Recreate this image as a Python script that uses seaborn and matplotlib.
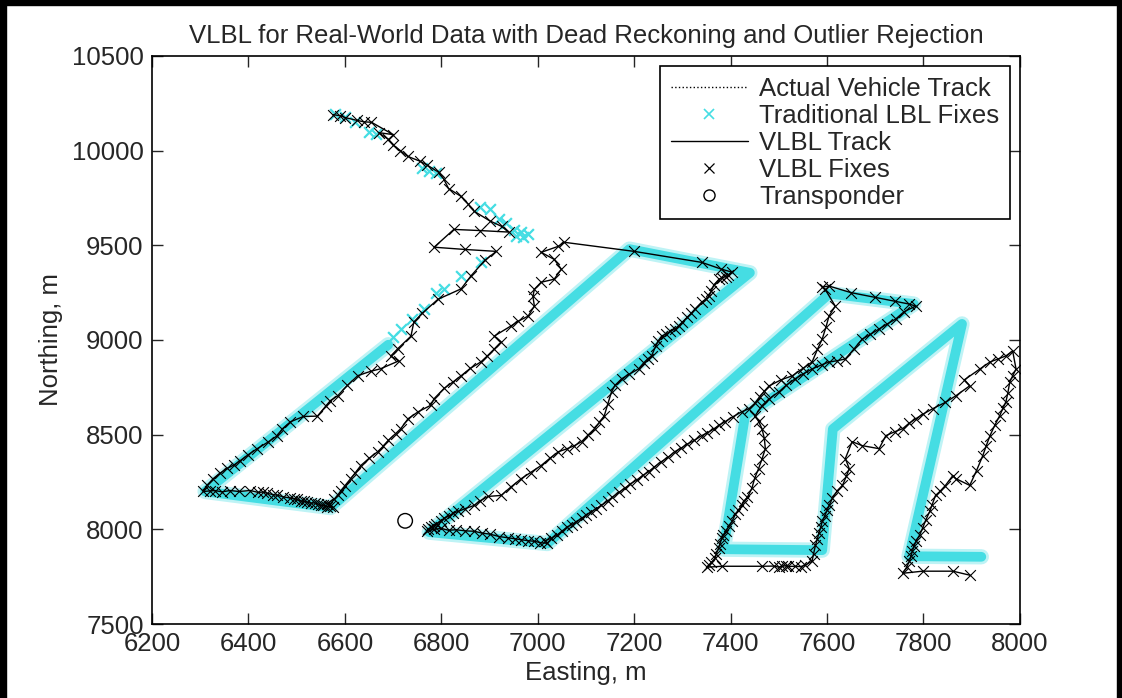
import matplotlib
matplotlib.use("Agg")
import matplotlib.pyplot as plt
from matplotlib.lines import Line2D
from matplotlib.patches import Rectangle
import seaborn as sns

# --- data (Easting / Northing, m) ---
# actual vehicle track (dotted), lawnmower vertices - lies under the LBL band
actual_e = [6690, 6310, 6570, 7190, 7440, 6775, 7020, 7605, 7780, 7430, 7385,
            7590, 7612, 7880, 7770, 7920]
actual_n = [8975, 8200, 8115, 9480, 9355, 7985, 7925, 9245, 9190, 8600, 7895,
            7890, 8530, 9085, 7858, 7855]

# traditional LBL fixes: dense band (drawn as a thick trace) ...
lbl_band_e = [6690, 6310, 6570, 7190, 7440, 6775, 7020, 7605, 7780, 7430, 7385,
              7590, 7612, 7880, 7770, 7920]
lbl_band_n = [8975, 8200, 8115, 9480, 9355, 7985, 7925, 9245, 9190, 8600, 7895,
              7890, 8530, 9085, 7858, 7855]
# ... and the sparse fixes where many were rejected
lbl_sparse_e = [6580, 6600, 6620, 6650, 6665, 6760, 6775, 6790, 6880, 6900, 6920, 6935,
                6950, 6965, 6980, 6970, 6955, 6882, 6841, 6806, 6790, 6764, 6740, 6716, 6700]
lbl_sparse_n = [10195, 10180, 10150, 10100, 10090, 9910, 9895, 9880, 9700, 9690, 9640, 9620,
                9580, 9570, 9560, 9545, 9550, 9410, 9337, 9268, 9250, 9163, 9110, 9058, 9015]

# VLBL track, piece by piece
seg_a_e = [6575, 6590, 6600, 6625, 6640, 6655, 6700, 6670, 6690, 6700, 6715, 6730,
           6755, 6770, 6795, 6805, 6815, 6840, 6855, 6868, 6900, 6925, 6940,
           6880, 6826, 6785, 6850, 6914]
seg_a_n = [10190, 10185, 10175, 10160, 10152, 10150, 10085, 10095, 10060, 10030, 10000, 9970,
           9945, 9925, 9885, 9850, 9800, 9760, 9720, 9680, 9630, 9600, 9570,
           9578, 9584, 9490, 9478, 9468]
seg_b_e = [6890, 6862, 6841, 6793, 6760, 6743, 6737, 6710, 6695, 6712, 6674, 6654, 6627,
           6605, 6585, 6570, 6560, 6543, 6514, 6487, 6470, 6460, 6440, 6418, 6400, 6383,
           6370, 6356, 6340, 6327, 6315, 6306]
seg_b_n = [9420, 9340, 9270, 9215, 9140, 9095, 9020, 8955, 8915, 8890, 8848, 8835, 8812,
           8760, 8705, 8680, 8650, 8598, 8596, 8568, 8530, 8495, 8460, 8426, 8395, 8363,
           8340, 8322, 8295, 8268, 8235, 8200]
seg_c_e = [6320, 6330, 6345, 6362, 6380, 6404, 6420, 6430, 6439, 6450, 6460, 6472, 6487,
           6495, 6500, 6508, 6515, 6522, 6529, 6537, 6545, 6550, 6555, 6562, 6570, 6575, 6562]
seg_c_n = [8203, 8205, 8198, 8205, 8200, 8205, 8195, 8197, 8190, 8184, 8180, 8172, 8165,
           8162, 8158, 8150, 8148, 8144, 8138, 8140, 8132, 8126, 8128, 8120, 8122, 8118, 8135]
seg_d_e = [6578, 6585, 6592, 6600, 6612, 6622, 6633, 6650, 6668, 6680, 6690, 6705, 6716,
           6731, 6752, 6778, 6785, 6806, 6825, 6841, 6860, 6882, 6895, 6910, 6924, 6910,
           6945, 6960, 6980, 6993, 6990, 6993, 7007, 7034, 7049, 7034, 7007, 7043, 7055]
seg_d_n = [8160, 8180, 8205, 8230, 8268, 8300, 8337, 8375, 8410, 8440, 8470, 8505, 8532,
           8584, 8621, 8655, 8690, 8745, 8780, 8811, 8850, 8884, 8915, 8953, 8990, 9021,
           9075, 9100, 9126, 9179, 9230, 9268, 9305, 9321, 9374, 9426, 9463, 9495, 9516]
seg_e_e = [7200, 7340, 7380, 7403]
seg_e_n = [9468, 9410, 9375, 9358]
seg_f_e = [7395, 7390, 7383, 7376, 7365, 7360, 7355, 7348, 7340, 7326, 7318, 7310, 7300,
           7292, 7285, 7275, 7265, 7257, 7250, 7245, 7236, 7228, 7220, 7209, 7190, 7174,
           7160, 7153, 7145, 7138, 7128, 7118, 7105, 7091, 7076, 7060, 7043, 7025, 7007,
           6985, 6966, 6945, 6924, 6897, 6880, 6868, 6850, 6835, 6825, 6815, 6805, 6799,
           6790, 6785, 6778, 6772, 6770]
seg_f_n = [9345, 9335, 9330, 9321, 9290, 9260, 9232, 9215, 9200, 9163, 9140, 9120, 9095,
           9074, 9060, 9045, 9030, 9021, 8995, 8970, 8916, 8900, 8880, 8847, 8820, 8795,
           8760, 8726, 8660, 8600, 8565, 8532, 8500, 8463, 8442, 8425, 8410, 8375, 8337,
           8300, 8268, 8225, 8179, 8174, 8150, 8126, 8110, 8095, 8085, 8070, 8058, 8042,
           8030, 8020, 8010, 8000, 7990]
seg_g_e = [6785, 6800, 6815, 6830, 6850, 6868, 6885, 6900, 6920, 6939, 6952, 6965, 6980,
           6993, 7005, 7020]
seg_g_n = [8000, 8005, 7995, 7998, 7992, 7990, 7980, 7975, 7962, 7955, 7950, 7945, 7940,
           7937, 7930, 7926]
seg_h_e = [7015, 7028, 7040, 7050, 7060, 7070, 7080, 7091, 7100, 7110, 7120, 7132, 7145,
           7155, 7168, 7180, 7192, 7205, 7218, 7230, 7242, 7255, 7270, 7284, 7298, 7310,
           7325, 7340, 7352, 7365, 7376, 7388, 7405, 7423, 7438, 7450, 7460, 7470, 7480,
           7505, 7528, 7550, 7569, 7580, 7590, 7598, 7604, 7617, 7596, 7590, 7604]
seg_h_n = [7940, 7953, 7970, 7990, 8010, 8025, 8040, 8058, 8075, 8090, 8108, 8126, 8150,
           8170, 8195, 8216, 8240, 8260, 8285, 8305, 8330, 8355, 8380, 8410, 8430, 8450,
           8470, 8495, 8510, 8530, 8550, 8568, 8595, 8621, 8637, 8665, 8700, 8730, 8758,
           8790, 8811, 8850, 8884, 8950, 9005, 9070, 9126, 9179, 9268, 9280, 9285]
seg_i_e = [7650, 7700, 7740, 7770, 7784]
seg_i_n = [9250, 9225, 9205, 9190, 9179]
seg_j_e = [7760, 7742, 7725, 7708, 7690, 7673, 7655, 7638, 7620, 7604, 7590, 7569, 7550,
           7534, 7515, 7500, 7480, 7465, 7451]
seg_j_n = [9150, 9110, 9085, 9058, 9030, 9005, 8950, 8900, 8890, 8884, 8870, 8847, 8820,
           8795, 8760, 8726, 8690, 8653, 8600]
seg_k_e = [7458, 7465, 7470, 7472, 7465, 7458, 7450, 7444, 7435, 7428, 7423, 7416, 7410,
           7403, 7396, 7390, 7385, 7382, 7378, 7375, 7370, 7368, 7360, 7355, 7350]
seg_k_n = [8570, 8532, 8480, 8426, 8370, 8321, 8270, 8216, 8170, 8150, 8126, 8100, 8080,
           8042, 8015, 7990, 7970, 7953, 7925, 7900, 7870, 7847, 7825, 7811, 7800]
seg_l_e = [7382, 7465, 7490, 7500, 7507, 7515, 7520, 7534, 7545, 7555, 7569]
seg_l_n = [7805, 7805, 7806, 7800, 7805, 7808, 7804, 7805, 7803, 7811, 7832]
seg_m_e = [7572, 7576, 7580, 7583, 7587, 7590, 7595, 7600, 7605, 7611, 7620, 7632, 7640,
           7646, 7638, 7652, 7673, 7708, 7722, 7740, 7757, 7770, 7784, 7800, 7819, 7845,
           7867, 7896, 7885, 7917, 7938, 7955, 7971, 7985]
seg_m_n = [7870, 7916, 7950, 7980, 8010, 8042, 8070, 8100, 8130, 8163, 8200, 8232, 8280,
           8321, 8374, 8463, 8442, 8426, 8495, 8515, 8532, 8560, 8584, 8610, 8637, 8670,
           8705, 8758, 8790, 8847, 8884, 8900, 8916, 8942]
seg_o_e = [7992, 7985, 7979, 7975, 7971, 7965, 7958, 7948, 7938, 7930, 7923, 7910, 7896,
           7867, 7861, 7845, 7834, 7825, 7818, 7813, 7805, 7798, 7792, 7785, 7780, 7777,
           7774, 7771, 7765, 7757]
seg_o_n = [8847, 8810, 8779, 8720, 8674, 8640, 8600, 8550, 8495, 8440, 8389, 8310, 8232,
           8268, 8284, 8230, 8200, 8179, 8130, 8095, 8050, 8005, 7970, 7940, 7910, 7884,
           7860, 7832, 7800, 7768]
seg_p_e = [7798, 7861, 7896]
seg_p_n = [7779, 7779, 7758]

vlbl_e = (seg_a_e + seg_b_e + seg_c_e + seg_d_e + seg_e_e + seg_f_e + seg_g_e + seg_h_e
          + seg_i_e + seg_j_e + seg_k_e + seg_l_e + seg_m_e + seg_o_e + seg_p_e)
vlbl_n = (seg_a_n + seg_b_n + seg_c_n + seg_d_n + seg_e_n + seg_f_n + seg_g_n + seg_h_n
          + seg_i_n + seg_j_n + seg_k_n + seg_l_n + seg_m_n + seg_o_n + seg_p_n)

transponder_e = [6725]
transponder_n = [8045]

x_ticks = [6200, 6400, 6600, 6800, 7000, 7200, 7400, 7600, 7800, 8000]
y_ticks = [7500, 8000, 8500, 9000, 9500, 10000, 10500]

lbl_color = "#45dde3"
fs = 18.5

sns.set_style("ticks")
plt.rcParams['font.family'] = ['Liberation Sans', 'DejaVu Sans']

fig = plt.figure(figsize=(11.22, 6.98), dpi=100)
ax = fig.add_axes([0.1355, 0.106, 0.7735, 0.8138])

# actual track (dotted, hidden under the LBL fixes)
sns.lineplot(x=actual_e, y=actual_n, sort=False, estimator=None, ax=ax,
             color="black", linestyle=":", linewidth=0.8, zorder=1)

# traditional LBL fixes
sns.lineplot(x=lbl_band_e, y=lbl_band_n, sort=False, estimator=None, ax=ax,
             color=lbl_color, alpha=0.35, linewidth=11, zorder=2)
sns.lineplot(x=lbl_band_e, y=lbl_band_n, sort=False, estimator=None, ax=ax,
             color=lbl_color, linewidth=7, zorder=2)
sns.scatterplot(x=lbl_sparse_e, y=lbl_sparse_n, ax=ax, marker="x", color=lbl_color,
                s=60, linewidth=1.6, zorder=2)

# VLBL track + fixes
sns.lineplot(x=vlbl_e, y=vlbl_n, sort=False, estimator=None, ax=ax,
             color="black", linewidth=1.0, zorder=3)
sns.scatterplot(x=vlbl_e, y=vlbl_n, ax=ax, marker="x", color="black",
                s=60, linewidth=0.8, zorder=4)

# transponder
sns.scatterplot(x=transponder_e, y=transponder_n, ax=ax, marker="o", s=110,
                facecolor="none", edgecolor="black", linewidth=1.0, zorder=5)

ax.set_xlim(6200, 8000)
ax.set_ylim(7500, 10500)
ax.set_xticks(x_ticks)
ax.set_yticks(y_ticks)
ax.tick_params(direction="in", top=True, right=True, length=8, width=1,
               labelsize=fs, pad=6)
for sp in ax.spines.values():
    sp.set_visible(True)
    sp.set_linewidth(1.2)
    sp.set_color("black")

ax.set_title("VLBL for Real-World Data with Dead Reckoning and Outlier Rejection",
             fontsize=fs, pad=9)
ax.set_xlabel("Easting, m", fontsize=fs, labelpad=3)
ax.set_ylabel("Northing, m", fontsize=fs, labelpad=6)

handles = [
    Line2D([], [], color="black", linestyle=":", linewidth=1.0),
    Line2D([], [], color=lbl_color, marker="x", linestyle="none", markersize=7,
           markeredgewidth=1.2),
    Line2D([], [], color="black", linewidth=1.0),
    Line2D([], [], color="black", marker="x", linestyle="none", markersize=7,
           markeredgewidth=0.9),
    Line2D([], [], color="black", marker="o", linestyle="none", markersize=8,
           markerfacecolor="none", markeredgewidth=1.0),
]
labels = ["Actual Vehicle Track", "Traditional LBL Fixes", "VLBL Track",
          "VLBL Fixes", "Transponder"]
leg = ax.legend(handles, labels, loc="upper right", fontsize=fs, frameon=True,
                fancybox=False, edgecolor="black", framealpha=1,
                borderaxespad=0.4, handlelength=3.0, handletextpad=0.45,
                labelspacing=0.12, borderpad=0.4)
leg.get_frame().set_linewidth(1.2)

# black frame around the image
fig.patches.append(Rectangle((0, 0), 6 / 1122, 1, transform=fig.transFigure,
                             color="black", zorder=10))
fig.patches.append(Rectangle((0, 1 - 5 / 698), 1, 5 / 698, transform=fig.transFigure,
                             color="black", zorder=10))
fig.patches.append(Rectangle((1 - 5 / 1122, 0), 5 / 1122, 1, transform=fig.transFigure,
                             color="black", zorder=10))

fig.savefig("out.png", dpi=100, facecolor="white")
